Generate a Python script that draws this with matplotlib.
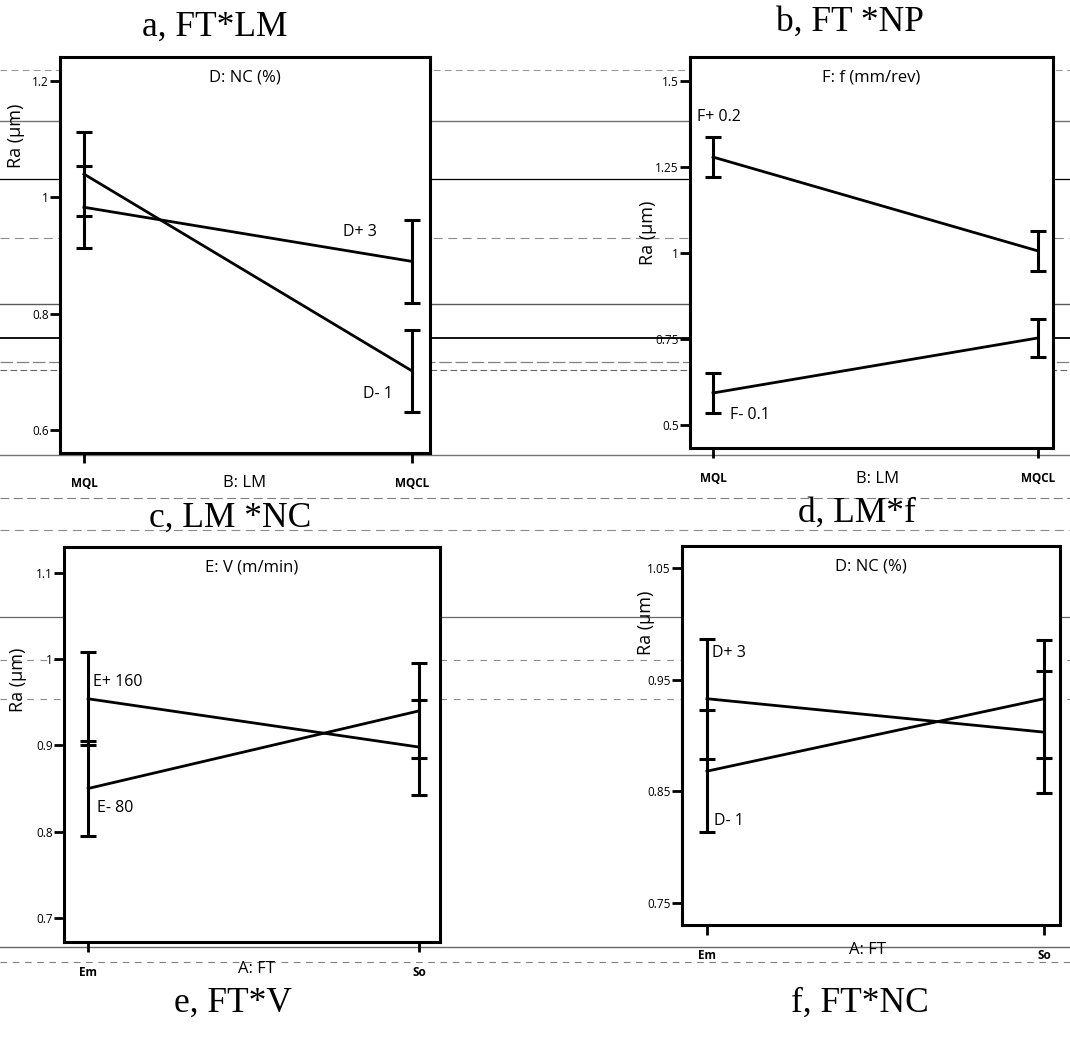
import matplotlib
matplotlib.use('Agg')
import matplotlib.pyplot as plt
from matplotlib.lines import Line2D

plt.rcParams['font.family'] = ['Open Sans', 'DejaVu Sans']

# panel a / b : factor B (LM)
lm_levels = ['MQL', 'MQCL']
a_hi = [0.983, 0.890]
a_hi_err = [0.070, 0.071]
a_lo = [1.040, 0.702]
a_lo_err = [0.072, 0.070]

b_hi = [1.279, 1.006]
b_hi_err = [0.057, 0.057]
b_lo = [0.593, 0.753]
b_lo_err = [0.058, 0.056]

# panel c / d : factor A (FT)
ft_levels = ['Em', 'So']
c_hi = [0.954, 0.898]
c_hi_err = [0.054, 0.055]
c_lo = [0.850, 0.940]
c_lo_err = [0.055, 0.055]

d_hi = [0.933, 0.903]
d_hi_err = [0.054, 0.055]
d_lo = [0.868, 0.933]
d_lo_err = [0.055, 0.053]

W, H = 1070, 1043


def px_rect(left, right, top, bottom):
    return [left / W, (H - bottom) / H, (right - left) / W, (bottom - top) / H]


def draw_panel(rect, levels, hi, hi_err, lo, lo_err, factor, hi_lab, lo_lab,
               yticks, yticklabels, ylim, xlim, xlabel, lab_pos, ylab_pos,
               xlab_pos):
    ax = fig.add_axes(rect)
    x = range(len(levels))
    for y, e in [(hi, hi_err), (lo, lo_err)]:
        ax.errorbar(x, y, yerr=e, color='black', lw=2, elinewidth=2.2,
                    capsize=6, capthick=2.2)
    ax.set_xlim(*xlim)
    ax.set_ylim(*ylim)
    ax.set_xticks(list(x))
    ax.set_xticklabels(levels, fontsize=8.5, fontweight='bold')
    ax.set_yticks(yticks)
    ax.set_yticklabels(yticklabels, fontsize=8.5)
    ax.tick_params(direction='out', length=7, width=2, pad=10, axis='x')
    ax.tick_params(direction='out', length=7, width=2, pad=1, axis='y')
    for s in ax.spines.values():
        s.set_linewidth(2.2)
    ax.set_xlabel(xlabel, fontsize=12)
    ax.xaxis.set_label_coords(*xlab_pos)
    ax.set_ylabel('Ra (µm)', fontsize=13)
    ax.yaxis.set_label_coords(*ylab_pos)
    ax.text(0.5, 0.947, factor, transform=ax.transAxes, ha='center',
            va='center', fontsize=12)
    ax.text(lab_pos[0][0], lab_pos[0][1], hi_lab, fontsize=11.5, va='center')
    ax.text(lab_pos[1][0], lab_pos[1][1], lo_lab, fontsize=11.5, va='center')
    return ax


fig = plt.figure(figsize=(W / 100, H / 100), dpi=100)

# scan artefact lines across the page
for yp, c, ls, lw in [(70, '0.6', (0, (6, 4)), 0.8), (121, '0.45', '-', 1.0),
                      (179, 'black', '-', 0.9), (238, '0.55', (0, (8, 5)), 0.8),
                      (304, '0.35', '-', 1.0), (338, 'black', '-', 1.3),
                      (362, '0.5', (0, (10, 3)), 0.9), (370, '0.4', (0, (6, 3)), 0.8),
                      (455, '0.45', '-', 1.0), (498, '0.5', (0, (8, 4)), 0.8),
                      (530, '0.55', (0, (8, 5)), 0.8), (617, '0.4', '-', 0.9),
                      (660, '0.55', (0, (6, 6)), 0.8), (699, '0.55', (0, (6, 6)), 0.8),
                      (947, '0.4', '-', 1.0), (962, '0.5', (0, (6, 5)), 0.8)]:
    fig.add_artist(Line2D([0, 1], [1 - yp / H, 1 - yp / H], transform=fig.transFigure,
                          color=c, ls=ls, lw=lw, zorder=0))

draw_panel(px_rect(60, 430, 57, 453), lm_levels, a_hi, a_hi_err, a_lo, a_lo_err,
           'D: NC (%)', 'D+ 3', 'D- 1',
           [0.6, 0.8, 1.0, 1.2], ['0.6', '0.8', '1', '1.2'],
           (0.561, 1.241), (-0.073, 1.055), 'B: LM',
           [(0.79, 0.94), (0.85, 0.663)], (-0.095, 0.80), (0.5, -0.056))

draw_panel(px_rect(690, 1053, 57, 448), lm_levels, b_hi, b_hi_err, b_lo, b_lo_err,
           'F: f (mm/rev)', 'F+ 0.2', 'F- 0.1',
           [0.5, 0.75, 1.0, 1.25, 1.5], ['0.5', '0.75', '1', '1.25', '1.5'],
           (0.433, 1.57), (-0.071, 1.046), 'B: LM',
           [(-0.05, 1.395), (0.052, 0.529)], (-0.091, 0.55), (0.518, -0.06))

draw_panel(px_rect(64, 440, 547, 942), ft_levels, c_hi, c_hi_err, c_lo, c_lo_err,
           'E: V (m/min)', 'E+ 160', 'E- 80',
           [0.7, 0.8, 0.9, 1.0, 1.1], ['0.7', '0.8', '0.9', '1', '1.1'],
           (0.672, 1.130), (-0.073, 1.063), 'A: FT',
           [(0.015, 0.974), (0.027, 0.827)], (-0.098, 0.663), (0.513, -0.047))

draw_panel(px_rect(682, 1060, 546, 925), ft_levels, d_hi, d_hi_err, d_lo, d_lo_err,
           'D: NC (%)', 'D+ 3', 'D- 1',
           [0.75, 0.85, 0.95, 1.05], ['0.75', '0.85', '0.95', '1.05'],
           (0.730, 1.070), (-0.074, 1.047), 'A: FT',
           [(0.015, 0.974), (0.021, 0.823)], (-0.071, 0.797), (0.49, -0.044))

serif = ['Liberation Serif', 'DejaVu Serif']
for tx, ty, s in [(215, 27, 'a, FT*LM'), (850, 22, 'b, FT *NP'),
                  (230, 518, 'c, LM *NC'), (857, 513, 'd, LM*f'),
                  (233, 1003, 'e, FT*V'), (860, 1003, 'f, FT*NC')]:
    fig.text(tx / W, 1 - ty / H, s, ha='center', va='center', fontsize=25.5,
             family=serif)

fig.savefig('out.png', dpi=100)
